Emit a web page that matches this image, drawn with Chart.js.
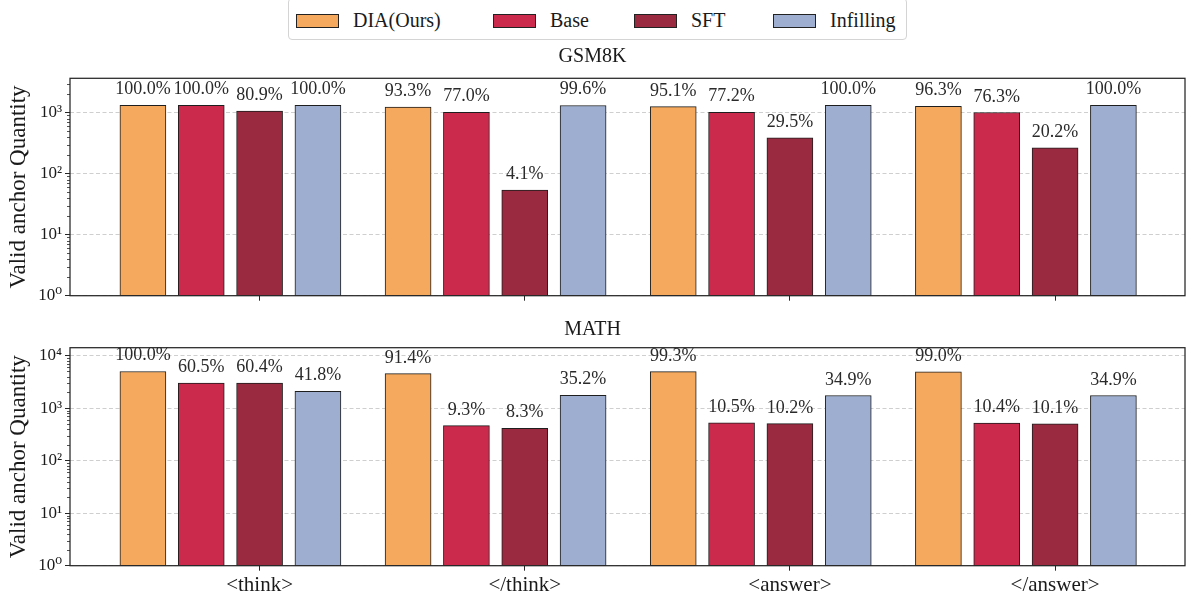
<!DOCTYPE html>
<html>
<head>
<meta charset="utf-8">
<script src="https://cdn.jsdelivr.net/npm/chart.js@4.4.1/dist/chart.umd.min.js"></script>
<style>
  html, body { margin: 0; padding: 0; background: #ffffff; }
  body { width: 1188px; height: 599px; position: relative; overflow: hidden;
         font-family: 'Liberation Serif', 'DejaVu Serif', serif; }
  canvas { position: absolute; left: 0; }
  #legend { position: absolute; left: 288px; top: -2px; width: 619px; height: 42px;
            border: 1px solid #d4d4d4; border-radius: 4px; background: #fff; box-sizing: border-box; }
  .item { position: absolute; top: 0; height: 42px; display: flex; align-items: center; }
  .swatch { width: 43px; height: 14px; border: 1px solid #222; box-sizing: border-box; margin-top: 1px; }
  .label { margin-left: 14px; font-size: 20px; color: #1a1a1a; white-space: pre; }
</style>
</head>
<body>
<div id="legend"></div>
<canvas id="gsm" width="1188" height="270" style="top:40px"></canvas>
<canvas id="math" width="1188" height="289" style="top:310px"></canvas>
<script>
// Anchor tokens on the x axis
const categories = ['<think>', '</think>', '<answer>', '</answer>'];

// Methods compared in each group
const seriesNames = ['DIA(Ours)', 'Base', 'SFT', 'Infilling'];
const seriesColors = ['#F5A95E', '#CC2A4C', '#9A2A3F', '#9DAED0'];

// Share of samples with a valid anchor (%), GSM8K test set
const gsmDIA       = [100.0, 93.3, 95.1, 96.3];
const gsmBase      = [100.0, 77.0, 77.2, 76.3];
const gsmSFT       = [80.9, 4.1, 29.5, 20.2];
const gsmInfilling = [100.0, 99.6, 100.0, 100.0];
const gsmTotal = 1319;

// Share of samples with a valid anchor (%), MATH test set
const mathDIA       = [100.0, 91.4, 99.3, 99.0];
const mathBase      = [60.5, 9.3, 10.5, 10.4];
const mathSFT       = [60.4, 8.3, 10.2, 10.1];
const mathInfilling = [41.8, 35.2, 34.9, 34.9];
const mathTotal = 5000;

// Log-axis tick values and upper limits
const gsmYTicks  = [1, 10, 100, 1000];
const mathYTicks = [1, 10, 100, 1000, 10000];
const gsmYMax  = 3664;
const mathYMax = 14200;

// Bar position inside a group (in category units) and the x range
const barOffsets = [-0.44, -0.22, 0, 0.22];
const xMin = -0.715, xMax = 3.49;

const FONT = "'Liberation Serif', 'DejaVu Serif', serif";
const INK = '#262626';
Chart.defaults.font.family = FONT;
Chart.defaults.color = INK;

// Legend (HTML)
const legendLefts = [7, 204, 345, 484];
const legendEl = document.getElementById('legend');
seriesNames.forEach((name, i) => {
  const item = document.createElement('div');
  item.className = 'item';
  item.style.left = legendLefts[i] + 'px';
  const sw = document.createElement('div');
  sw.className = 'swatch';
  sw.style.background = seriesColors[i];
  const lb = document.createElement('span');
  lb.className = 'label';
  lb.textContent = name;
  item.appendChild(sw); item.appendChild(lb);
  legendEl.appendChild(item);
});

const SUP = { '0': '\u2070', '1': '\u00B9', '2': '\u00B2', '3': '\u00B3', '4': '\u2074',
              '5': '\u2075', '6': '\u2076', '7': '\u2077', '8': '\u2078', '9': '\u2079' };
function powerLabel(v) {
  const e = Math.round(Math.log10(v));
  return '10' + String(e).split('').map(c => SUP[c]).join('');
}

// Full box frame, log minor ticks and percentage labels above bars
const decorPlugin = {
  id: 'decor',
  afterDatasetsDraw(chart) {
    const ctx = chart.ctx;
    const ca = chart.chartArea;
    const y = chart.scales.y;
    ctx.save();
    // minor ticks
    ctx.strokeStyle = INK;
    ctx.lineWidth = 0.8;
    const maxExp = Math.ceil(Math.log10(y.max));
    for (let e = 0; e <= maxExp; e++) {
      for (let k = 2; k <= 9; k++) {
        const v = k * Math.pow(10, e);
        if (v > y.max) continue;
        const py = Math.round(y.getPixelForValue(v)) + 0.5;
        ctx.beginPath();
        ctx.moveTo(ca.left - 3, py);
        ctx.lineTo(ca.left, py);
        ctx.stroke();
      }
    }
    // frame
    ctx.lineWidth = 1.25;
    ctx.strokeStyle = INK;
    ctx.strokeRect(ca.left, ca.top, ca.right - ca.left, ca.bottom - ca.top);
    // value labels
    ctx.fillStyle = '#2a2a2a';
    ctx.font = '18px ' + FONT;
    ctx.textAlign = 'center';
    ctx.textBaseline = 'alphabetic';
    chart.data.datasets.forEach((ds, di) => {
      const meta = chart.getDatasetMeta(di);
      meta.data.forEach((bar, i) => {
        ctx.fillText(ds.pct[i].toFixed(1) + '%', bar.x, bar.y - 11);
      });
    });
    ctx.restore();
  }
};

function makeChart(canvasId, title, pctSeries, total, yTicks, yMax, showXLabels, titlePad, xAxisHeight) {
  const datasets = pctSeries.map((pct, s) => ({
    label: seriesNames[s],
    pct: pct,
    data: pct.map((p, i) => ({ x: i + barOffsets[s], y: p / 100 * total })),
    backgroundColor: seriesColors[s],
    borderColor: '#1e1e1e',
    borderWidth: 1,
    borderSkipped: false,
    barThickness: 46,
    grouped: false
  }));
  return new Chart(document.getElementById(canvasId), {
    type: 'bar',
    data: { datasets },
    options: {
      responsive: false,
      animation: false,
      layout: { padding: { left: 0, right: 3, top: 0, bottom: 0 } },
      plugins: {
        legend: { display: false },
        tooltip: { enabled: false },
        title: {
          display: true, text: title, color: '#1a1a1a',
          font: { size: 20, weight: 'normal', family: FONT },
          padding: titlePad
        }
      },
      scales: {
        x: {
          type: 'linear', min: xMin, max: xMax, offset: false,
          afterBuildTicks: (sc) => { sc.ticks = categories.map((c, i) => ({ value: i })); },
          afterFit: (sc) => { sc.height = xAxisHeight; },
          ticks: {
            display: showXLabels, autoSkip: false, maxRotation: 0, padding: 2,
            font: { size: 21, family: FONT }, color: '#1a1a1a',
            callback: (v) => categories[v]
          },
          grid: { offset: false, drawOnChartArea: false, drawTicks: true, tickLength: 5, tickColor: INK, tickWidth: 1 },
          border: { display: false }
        },
        y: {
          type: 'logarithmic', min: 1, max: yMax,
          afterBuildTicks: (sc) => { sc.ticks = yTicks.map(v => ({ value: v })); },
          afterFit: (sc) => { sc.width = 70; },
          ticks: {
            padding: 3, font: { size: 17, family: FONT }, color: '#1a1a1a',
            callback: (v) => powerLabel(v)
          },
          grid: { color: '#cfcfcf', lineWidth: 1, drawTicks: true, tickLength: 5, tickColor: INK, tickWidth: 1 },
          border: { display: false, dash: [4, 2.5] },
          title: {
            display: true, text: 'Valid anchor Quantity', color: '#1a1a1a',
            font: { size: 23, family: FONT }, padding: { top: 5, bottom: 0 }
          }
        }
      }
    },
    plugins: [decorPlugin]
  });
}

makeChart('gsm', 'GSM8K', [gsmDIA, gsmBase, gsmSFT, gsmInfilling], gsmTotal,
          gsmYTicks, gsmYMax, false, { top: 5, bottom: 9.3 }, 14.3);
makeChart('math', 'MATH', [mathDIA, mathBase, mathSFT, mathInfilling], mathTotal,
          mathYTicks, mathYMax, true, { top: 8, bottom: 5.7 }, 33.3);
</script>
</body>
</html>
